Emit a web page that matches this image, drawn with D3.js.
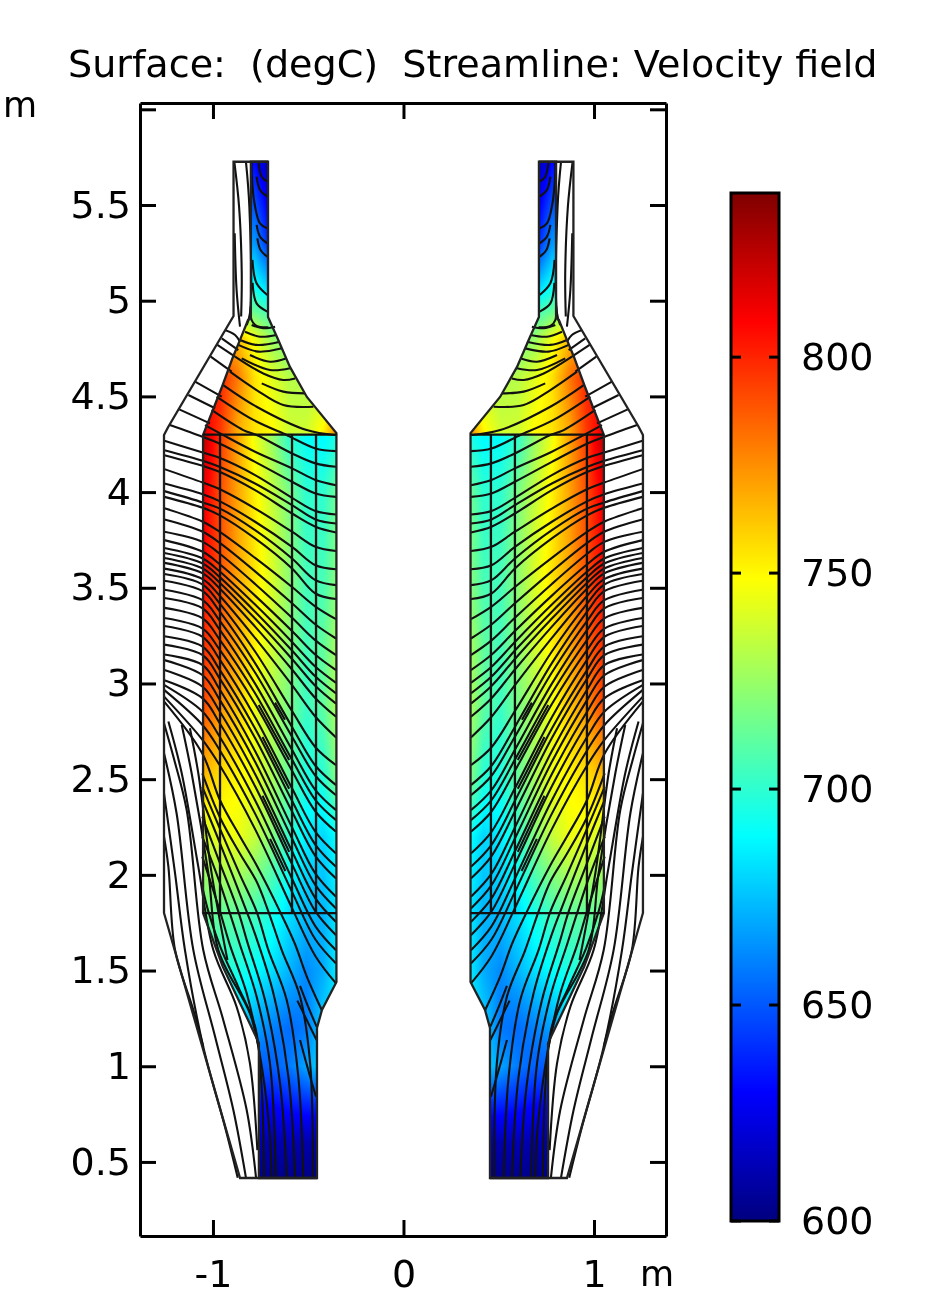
<!DOCTYPE html>
<html>
<head>
<meta charset="utf-8">
<style>
  html, body { margin: 0; padding: 0; background: #fff; }
  #chart { position: relative; width: 945px; height: 1299px; overflow: hidden; }
  #chart canvas, #chart svg { position: absolute; left: 0; top: 0; }
  text { font-family: "DejaVu Sans", sans-serif; fill: #000; white-space: pre; }
</style>
</head>
<body>
<div id="chart"></div>
<script src="https://cdn.jsdelivr.net/npm/d3@7"></script>
<script>
const titleText = "Surface:  (degC)  Streamline: Velocity field";
const xTicks = [-1, 0, 1];
const yTicks = [0.5, 1, 1.5, 2, 2.5, 3, 3.5, 4, 4.5, 5, 5.5, 6];
const barTicks = [600, 650, 700, 750, 800];

// rainbow colour table of the colour bar (degC)
const jetValues = [600, 629.75, 689.25, 719, 748.75, 808.25, 838];
const jetColors = ["#00007f", "#0000ff", "#00ffff", "#7fff7f", "#ffff00", "#ff0000", "#7f0000"];

const tempX = [-1.06, -0.96, -0.87, -0.78, -0.69, -0.60, -0.51, -0.42, -0.35];
const tempY = [0.41, 0.6, 0.8, 1.0, 1.2, 1.5, 1.8, 2.2, 2.5, 2.9, 3.2, 3.6, 4.0, 4.29, 4.31, 4.6, 4.8, 4.95, 5.05, 5.3, 5.73];
const tempGrid = [
  [602, 602, 602, 602, 602, 602, 602, 602, 602],
  [612, 612, 612, 612, 610, 612, 610, 612, 612],
  [630, 630, 630, 632, 630, 635, 638, 640, 640],
  [655, 655, 655, 650, 652, 658, 668, 682, 682],
  [685, 685, 680, 668, 660, 655, 658, 680, 685],
  [700, 700, 695, 690, 682, 672, 662, 670, 685],
  [715, 712, 712, 705, 695, 682, 674, 672, 684],
  [735, 745, 745, 735, 720, 700, 685, 680, 690],
  [765, 755, 750, 745, 728, 712, 695, 698, 720],
  [795, 775, 762, 745, 730, 718, 703, 712, 730],
  [800, 785, 768, 752, 738, 722, 705, 712, 728],
  [810, 790, 770, 755, 740, 722, 705, 705, 720],
  [815, 790, 770, 752, 735, 718, 700, 700, 715],
  [828, 795, 770, 745, 725, 700, 690, 688, 695],
  [815, 795, 768, 755, 750, 738, 738, 752, 778],
  [810, 800, 780, 755, 742, 732, 730, 730, 730],
  [780, 770, 765, 745, 725, 715, 712, 712, 712],
  [730, 730, 725, 712, 702, 700, 700, 700, 700],
  [695, 695, 695, 695, 680, 680, 680, 680, 680],
  [665, 665, 665, 665, 632, 632, 632, 632, 632],
  [630, 630, 630, 630, 608, 608, 608, 608, 608]
];

// geometry of the left half (m)
const wallOuter = [[-0.711, 5.726], [-0.892, 5.726], [-0.892, 4.92], [-1.235, 4.34], [-1.257, 4.298], [-1.257, 1.801], [-0.858, 0.416], [-0.454, 0.416]];
const wallHot = [
  [-0.801, 5.726], [-0.711, 5.726], [-0.711, 4.915], [-0.664, 4.81], [-0.596, 4.654], [-0.507, 4.497],
  [-0.352, 4.308], [-0.352, 1.44], [-0.428, 1.294], [-0.454, 1.2], [-0.454, 0.416], [-0.759, 0.416],
  [-0.759, 1.122], [-0.948, 1.519], [-1.052, 1.801], [-1.052, 4.298], [-0.953, 4.549], [-0.895, 4.706],
  [-0.858, 4.795], [-0.816, 4.899], [-0.801, 4.91]
];
const partitionH = [4.3, 1.8];
const partitionV = [-0.963, -0.585, -0.459];

// streamlines crossing the body: y (m) at each of the stations bodyX
const bodyX = [-1.255, -1.054, -0.966, -0.779, -0.585, -0.462, -0.354];
const bodyRows = [
  [4.268, 4.207, 4.179, 4.089, 3.970, 3.901, 3.883],
  [4.219, 4.164, 4.132, 4.045, 3.932, 3.857, 3.836],
  [4.193, 4.137, 4.106, 4.010, 3.888, 3.819, 3.789],
  [4.120, 4.050, 4.016, 3.914, 3.793, 3.714, 3.692],
  [4.045, 3.989, 3.953, 3.845, 3.714, 3.618, 3.597],
  [4.005, 3.946, 3.915, 3.801, 3.653, 3.540, 3.514],
  [3.975, 3.918, 3.880, 3.758, 3.601, 3.470, 3.441],
  [3.915, 3.845, 3.793, 3.656, 3.504, 3.402, 3.336],
  [3.857, 3.793, 3.736, 3.586, 3.419, 3.308, 3.235],
  [3.793, 3.740, 3.679, 3.520, 3.343, 3.225, 3.148],
  [3.749, 3.688, 3.624, 3.459, 3.274, 3.150, 3.070],
  [3.708, 3.653, 3.586, 3.412, 3.217, 3.087, 3.003],
  [3.682, 3.627, 3.557, 3.375, 3.172, 3.036, 2.948],
  [3.656, 3.601, 3.528, 3.339, 3.128, 2.987, 2.895],
  [3.630, 3.575, 3.498, 3.297, 3.073, 2.923, 2.826],
  [3.600, 3.545, 3.460, 3.238, 2.991, 2.826, 2.718],
  [3.572, 3.517, 3.420, 3.167, 2.856, 2.667, 2.573],
  [3.537, 3.482, 3.378, 3.106, 2.773, 2.570, 2.469],
  [3.490, 3.435, 3.330, 3.057, 2.722, 2.518, 2.416],
  [3.447, 3.392, 3.283, 2.999, 2.654, 2.443, 2.338],
  [3.395, 3.340, 3.231, 2.949, 2.602, 2.391, 2.286],
  [3.342, 3.287, 3.178, 2.893, 2.544, 2.331, 2.225],
  [3.300, 3.244, 3.127, 2.824, 2.452, 2.225, 2.112],
  [3.247, 3.192, 3.074, 2.765, 2.387, 2.157, 2.042],
  [3.203, 3.148, 3.028, 2.715, 2.331, 2.098, 1.981],
  [3.151, 3.096, 2.971, 2.647, 2.248, 2.006, 1.885],
  [3.122, 3.043, 2.917, 2.591, 2.190, 1.946, 1.824],
  [3.070, 2.983, 2.856, 2.527, 2.123, 1.877, 1.754],
  [3.017, 2.922, 2.795, 2.463, 2.056, 1.809, 1.685],
  [2.991, 2.852, 2.724, 2.390, 1.980, 1.731, 1.606],
  [2.965, 2.782, 2.654, 2.320, 1.911, 1.662, 1.537],
  [2.930, 2.704, 2.575, 2.239, 1.826, 1.575, 1.433]
];

// streamlines in the top duct and the cone, [x, y] in m
const coneLines = [
  [[-0.888, 5.727], [-0.863, 5.492], [-0.849, 5.143], [-0.852, 4.917]],
  [[-0.886, 5.352], [-0.876, 5.056], [-0.858, 4.864]],
  [[-0.827, 5.727], [-0.809, 5.492], [-0.806, 4.934], [-0.823, 4.873]],
  [[-0.762, 5.727], [-0.744, 5.648], [-0.715, 5.622]],
  [[-0.771, 5.648], [-0.753, 5.579], [-0.715, 5.544]],
  [[-0.797, 5.727], [-0.797, 5.666], [-0.779, 5.492], [-0.753, 5.404], [-0.715, 5.378]],
  [[-0.771, 5.396], [-0.753, 5.335], [-0.715, 5.300]],
  [[-0.767, 5.326], [-0.750, 5.265], [-0.715, 5.230]],
  [[-0.793, 5.213], [-0.771, 5.091], [-0.715, 5.030]],
  [[-0.792, 5.094], [-0.771, 4.986], [-0.715, 4.943]],
  [[-0.802, 4.969], [-0.797, 4.899], [-0.771, 4.868], [-0.709, 4.861]],
  [[-0.937, 4.847], [-0.884, 4.821], [-0.858, 4.786]],
  [[-0.954, 4.803], [-0.867, 4.742]],
  [[-0.977, 4.769], [-0.884, 4.708]],
  [[-1.012, 4.708], [-0.902, 4.629]],
  [[-1.094, 4.577], [-0.954, 4.499]],
  [[-1.129, 4.507], [-0.989, 4.438]],
  [[-1.177, 4.432], [-1.016, 4.359]],
  [[-1.226, 4.350], [-1.056, 4.289], [-0.966, 4.254], [-0.779, 4.158], [-0.585, 4.054], [-0.462, 3.993], [-0.354, 3.975]],
  [[-0.797, 4.873], [-0.736, 4.856], [-0.674, 4.864]],
  [[-0.832, 4.838], [-0.753, 4.812], [-0.666, 4.821]],
  [[-0.858, 4.795], [-0.771, 4.769], [-0.648, 4.786]],
  [[-0.867, 4.769], [-0.762, 4.734], [-0.639, 4.751]],
  [[-0.806, 4.716], [-0.701, 4.681], [-0.613, 4.699]],
  [[-0.849, 4.699], [-0.701, 4.638], [-0.596, 4.647]],
  [[-0.884, 4.708], [-0.736, 4.620], [-0.631, 4.586], [-0.569, 4.594]],
  [[-0.744, 4.568], [-0.631, 4.525], [-0.517, 4.516]],
  [[-0.911, 4.629], [-0.771, 4.533], [-0.631, 4.455], [-0.473, 4.446]],
  [[-0.946, 4.559], [-0.771, 4.446], [-0.508, 4.324], [-0.359, 4.298]],
  [[-0.981, 4.499], [-0.788, 4.377], [-0.613, 4.298], [-0.585, 4.284], [-0.462, 4.228], [-0.354, 4.214]],
  [[-1.007, 4.429], [-0.841, 4.324], [-0.771, 4.298], [-0.585, 4.202], [-0.462, 4.150], [-0.354, 4.132]],
  [[-1.042, 4.350], [-0.946, 4.298], [-0.779, 4.211], [-0.585, 4.124], [-0.462, 4.063], [-0.354, 4.036]]
];

// steep streamlines of the lower part and short pieces in the middle, [x, y] in m
const lowerLines = [
  [[-1.255, 2.904], [-1.056, 2.634], [-0.963, 2.390], [-0.858, 2.200], [-0.771, 2.050], [-0.648, 1.808], [-0.570, 1.640], [-0.508, 1.470], [-0.429, 1.294]],
  [[-1.056, 2.530], [-0.963, 2.300], [-0.858, 2.110], [-0.771, 1.965], [-0.709, 1.808], [-0.639, 1.607], [-0.543, 1.364], [-0.490, 1.015], [-0.476, 0.418]],
  [[-1.056, 2.460], [-0.963, 2.240], [-0.858, 2.000], [-0.771, 1.808], [-0.709, 1.607], [-0.613, 1.346], [-0.552, 0.945], [-0.526, 0.418]],
  [[-1.056, 2.391], [-0.963, 2.165], [-0.823, 1.808], [-0.779, 1.690], [-0.683, 1.381], [-0.604, 0.945], [-0.569, 0.418]],
  [[-1.056, 2.304], [-0.963, 2.060], [-0.867, 1.808], [-0.820, 1.650], [-0.727, 1.346], [-0.648, 0.911], [-0.613, 0.418]],
  [[-1.056, 2.200], [-0.963, 1.956], [-0.914, 1.808], [-0.860, 1.640], [-0.771, 1.364], [-0.701, 1.015], [-0.670, 0.418]],
  [[-1.056, 2.095], [-0.963, 1.808], [-0.910, 1.630], [-0.823, 1.381], [-0.758, 1.085], [-0.705, 0.684], [-0.692, 0.418]],
  [[-1.056, 1.938], [-1.024, 1.808], [-0.960, 1.620], [-0.868, 1.416], [-0.779, 1.207], [-0.745, 0.900], [-0.732, 0.418]],
  [[-0.543, 1.420], [-0.500, 1.310], [-0.456, 1.207]],
  [[-0.557, 1.343], [-0.499, 1.224], [-0.456, 1.137]],
  [[-0.543, 1.137], [-0.490, 0.945], [-0.459, 0.841]],
  [[-0.760, 2.888], [-0.683, 2.749], [-0.600, 2.600]],
  [[-0.740, 2.720], [-0.660, 2.565], [-0.600, 2.450]],
  [[-0.740, 2.413], [-0.660, 2.247], [-0.600, 2.120]],
  [[-0.700, 2.188], [-0.620, 2.020]],
  [[-0.674, 2.900], [-0.622, 2.810]],
  [[-1.257, 2.200], [-1.234, 2.043], [-1.199, 1.607], [-1.103, 1.294], [-1.051, 1.102]],
  [[-1.257, 2.426], [-1.199, 2.008], [-1.147, 1.607], [-1.051, 1.102], [-0.937, 0.684], [-0.870, 0.418]],
  [[-1.257, 2.635], [-1.191, 2.322], [-1.103, 1.607], [-0.989, 1.155], [-0.893, 0.771], [-0.827, 0.418]],
  [[-1.257, 2.792], [-1.208, 2.618], [-1.138, 2.339], [-1.051, 1.607], [-0.946, 1.242], [-0.823, 0.771], [-0.774, 0.418]],
  [[-1.234, 2.801], [-1.164, 2.531], [-1.077, 2.043], [-0.998, 1.607], [-0.876, 1.311], [-0.806, 1.015], [-0.767, 0.562]],
  [[-1.164, 2.783], [-1.112, 2.531], [-1.024, 2.008], [-0.972, 1.607], [-0.806, 1.276], [-0.762, 1.102]],
  [[-1.121, 2.766], [-1.077, 2.531], [-1.007, 2.008], [-0.924, 1.555]]
];

const width = 945, height = 1299;
const margin = { top: 103, right: 279, bottom: 63, left: 140 };

const x = d3.scaleLinear().domain([-1.383, 1.378]).range([margin.left, width - margin.right]);
const y = d3.scaleLinear().domain([0.113, 6.033]).range([height - margin.bottom, margin.top]);
const barScale = d3.scaleLinear().domain([600, 838]).range([1221, 193]);
const color = d3.scaleLinear().domain(jetValues).range(jetColors);

const chart = d3.select("#chart");
const canvas = chart.append("canvas").attr("width", width).attr("height", height);
const ctx = canvas.node().getContext("2d");
const svg = chart.append("svg").attr("width", width).attr("height", height);

// temperature at a point
function tempAt(px, py) {
  const i = Math.max(1, Math.min(tempX.length - 1, d3.bisectLeft(tempX, px)));
  const j = Math.max(1, Math.min(tempY.length - 1, d3.bisectLeft(tempY, py)));
  const tx = Math.max(0, Math.min(1, (px - tempX[i - 1]) / (tempX[i] - tempX[i - 1])));
  const ty = Math.max(0, Math.min(1, (py - tempY[j - 1]) / (tempY[j] - tempY[j - 1])));
  const low = tempGrid[j - 1][i - 1] * (1 - tx) + tempGrid[j - 1][i] * tx;
  const high = tempGrid[j][i - 1] * (1 - tx) + tempGrid[j][i] * tx;
  return low * (1 - ty) + high * ty;
}

const mirror = pts => pts.map(d => [-d[0], d[1]]);
const sides = [d => d, mirror];

// surface plot on the canvas, clipped to the hot region of each half
sides.forEach((side, s) => {
  const outline = side(wallHot);
  ctx.save();
  ctx.beginPath();
  outline.forEach((d, i) => i ? ctx.lineTo(x(d[0]), y(d[1])) : ctx.moveTo(x(d[0]), y(d[1])));
  ctx.closePath();
  ctx.clip();
  const xr = d3.extent(outline, d => x(d[0]));
  const yr = d3.extent(outline, d => y(d[1]));
  for (let px = Math.floor(xr[0]); px <= xr[1]; px++) {
    for (let py = Math.floor(yr[0]); py <= yr[1]; py++) {
      const dx = x.invert(px + 0.5);
      ctx.fillStyle = color(tempAt(s ? -dx : dx, y.invert(py + 0.5)));
      ctx.fillRect(px, py, 1, 1);
    }
  }
  ctx.restore();
});

// streamlines
const line = d3.line().x(d => x(d[0])).y(d => y(d[1])).curve(d3.curveCatmullRom);
const straight = d3.line().x(d => x(d[0])).y(d => y(d[1]));
const bodyLines = bodyRows.map(r => r.map((v, i) => [bodyX[i], v]));
const allLines = [].concat(bodyLines, coneLines, lowerLines);

const g = svg.append("g");
sides.forEach(side => {
  g.append("g").selectAll("path")
    .data(allLines)
    .enter()
    .append("path")
    .attr("d", d => line(side(d)))
    .attr("fill", "none")
    .attr("stroke", "#111")
    .attr("stroke-width", 2.1);

  // walls and partitions
  g.append("path").attr("d", straight(side(wallOuter)))
    .attr("fill", "none").attr("stroke", "#222").attr("stroke-width", 2.3);
  g.append("path").attr("d", straight(side(wallHot)) + "Z")
    .attr("fill", "none").attr("stroke", "#222").attr("stroke-width", 2.3);
  partitionH.forEach(v => {
    g.append("path").attr("d", straight(side([[-1.052, v], [-0.352, v]])))
      .attr("stroke", "#111").attr("stroke-width", 2.3);
  });
  partitionV.forEach(v => {
    g.append("path").attr("d", straight(side([[v, 4.3], [v, 1.8]])))
      .attr("stroke", "#111").attr("stroke-width", 2.3);
  });
});

// axes, ticks point into the frame
const fontSize = 38;

function styleAxis(sel) {
  sel.select(".domain").attr("stroke", "#000").attr("stroke-width", 3);
  sel.selectAll(".tick line").attr("stroke", "#000").attr("stroke-width", 3);
  sel.selectAll("text").style("font-size", fontSize + "px").style("font-family", '"DejaVu Sans", sans-serif');
}

svg.append("g").attr("transform", `translate(0,${height - margin.bottom})`)
  .call(d3.axisBottom(x).tickValues(xTicks).tickSizeInner(-16).tickSizeOuter(0).tickPadding(24).tickFormat(d3.format("d")))
  .call(styleAxis)
  .selectAll("text").text(d => d < 0 ? "-" + Math.abs(d) : d);
svg.append("g").attr("transform", `translate(0,${margin.top})`)
  .call(d3.axisTop(x).tickValues(xTicks).tickSizeInner(-16).tickSizeOuter(0).tickFormat(""))
  .call(styleAxis);
svg.append("g").attr("transform", `translate(${margin.left},0)`)
  .call(d3.axisLeft(y).tickValues(yTicks).tickSizeInner(-16).tickSizeOuter(0).tickPadding(9)
    .tickFormat(d => d === 6 ? "" : d))
  .call(styleAxis);
svg.append("g").attr("transform", `translate(${width - margin.right},0)`)
  .call(d3.axisRight(y).tickValues(yTicks).tickSizeInner(-16).tickSizeOuter(0).tickFormat(""))
  .call(styleAxis);

// title and unit labels
svg.append("text").attr("x", 68).attr("y", 77).style("font-size", "38.1px").text(titleText);
svg.append("text").attr("x", 3).attr("y", 117).style("font-size", "35px").text("m");
svg.append("text").attr("x", 640).attr("y", 1286).style("font-size", "35px").text("m");

// colour bar
const defs = svg.append("defs");
const grad = defs.append("linearGradient").attr("id", "jet").attr("x1", 0).attr("y1", 1).attr("x2", 0).attr("y2", 0);
grad.selectAll("stop")
  .data(jetValues)
  .enter()
  .append("stop")
  .attr("offset", d => (d - 600) / (838 - 600))
  .attr("stop-color", (d, i) => jetColors[i]);

const barX = 731, barW = 48;
svg.append("rect")
  .attr("x", barX).attr("y", barScale(838))
  .attr("width", barW).attr("height", barScale(600) - barScale(838))
  .attr("fill", "url(#jet)")
  .attr("stroke", "#000").attr("stroke-width", 3);
const barTick = svg.append("g").selectAll("g").data(barTicks).enter().append("g");
barTick.append("line").attr("x1", barX).attr("x2", barX + 10)
  .attr("y1", d => barScale(d)).attr("y2", d => barScale(d)).attr("stroke", "#000").attr("stroke-width", 3);
barTick.append("line").attr("x1", barX + barW - 10).attr("x2", barX + barW)
  .attr("y1", d => barScale(d)).attr("y2", d => barScale(d)).attr("stroke", "#000").attr("stroke-width", 3);
barTick.append("text").attr("x", 801).attr("y", d => barScale(d)).attr("dy", "0.34em")
  .style("font-size", fontSize + "px").text(d => d);
</script>
</body>
</html>
